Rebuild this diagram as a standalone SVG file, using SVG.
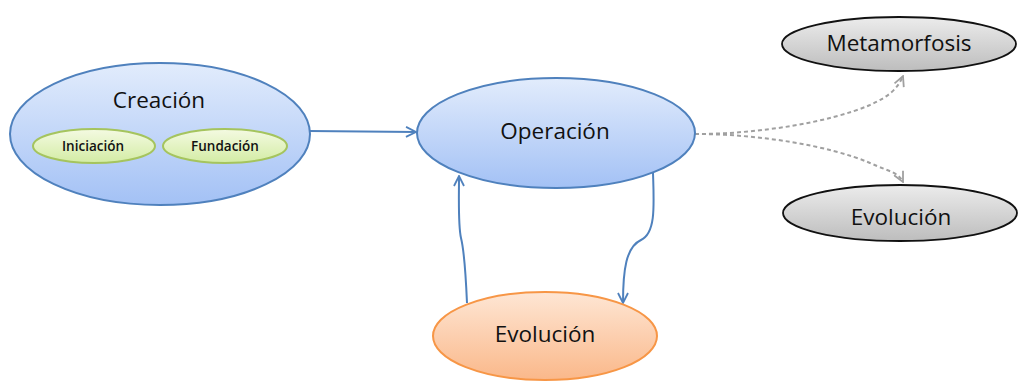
<svg xmlns="http://www.w3.org/2000/svg" width="1018" height="381" viewBox="0 0 1018 381">
<defs>
<linearGradient id="gBlue" x1="0" y1="0" x2="0" y2="1"><stop offset="0" stop-color="#e2ecfc"/><stop offset="1" stop-color="#a3c1f5"/></linearGradient>
<linearGradient id="gGreen" x1="0" y1="0" x2="0" y2="1"><stop offset="0" stop-color="#f4fae2"/><stop offset="1" stop-color="#d3eca4"/></linearGradient>
<linearGradient id="gOrange" x1="0" y1="0" x2="0" y2="1"><stop offset="0" stop-color="#fee6d4"/><stop offset="1" stop-color="#fab88a"/></linearGradient>
<linearGradient id="gGray" x1="0" y1="0" x2="0" y2="1"><stop offset="0" stop-color="#ececec"/><stop offset="1" stop-color="#bdbdbd"/></linearGradient>
<marker id="aBlue" viewBox="0 0 12 12" refX="11" refY="6" markerWidth="12" markerHeight="12" markerUnits="userSpaceOnUse" orient="auto"><path d="M1,1 L11,6 L1,11" fill="none" stroke="#4f81bd" stroke-width="1.8"/></marker>
<marker id="aGray" viewBox="0 0 12 12" refX="11" refY="6" markerWidth="12" markerHeight="12" markerUnits="userSpaceOnUse" orient="auto"><path d="M1,1 L11,6 L1,11" fill="none" stroke="#a0a0a0" stroke-width="1.8"/></marker>
</defs>
<style>
.blue{fill:url(#gBlue);stroke:#4f81bd;stroke-width:2}
.green{fill:url(#gGreen);stroke:#a5c45e;stroke-width:2}
.orange{fill:url(#gOrange);stroke:#f79646;stroke-width:2}
.gray{fill:url(#gGray);stroke:#111;stroke-width:1.8}
.t{font-family:"Open Sans","Noto Sans",sans-serif;fill:#111;text-anchor:middle}
.big{font-size:22.5px}
.small{font-size:13.5px;font-weight:600}
.cb{fill:none;stroke:#4f81bd;stroke-width:2;marker-end:url(#aBlue)}
.cg{fill:none;stroke:#a0a0a0;stroke-width:2;stroke-dasharray:4,3;marker-end:url(#aGray)}
</style>
<g id="connectors">
<path class="cb" d="M309,131 L416,132"/>
<path class="cb" d="M653,173 C654,205 656,233 641,240 C626,247 623,270 623,303"/>
<path class="cb" d="M467,303 C466,280 464,250 461,238 C458,225 459,200 459,176"/>
<path class="cg" d="M695,134 C760,134 830,122 870,105 C890,96 898,88 903,76"/>
<path class="cg" d="M695,134 C760,134 830,146 870,163 C890,172 898,172 903,182"/>
</g>
<g id="creacion">
<ellipse class="blue" cx="160" cy="134" rx="150" ry="71"/>
<text class="t big" x="159" y="108">Creación</text>
</g>
<g id="iniciacion">
<ellipse class="green" cx="94" cy="146" rx="61" ry="17"/>
<text class="t small" x="93" y="151">Iniciación</text>
</g>
<g id="fundacion">
<ellipse class="green" cx="225" cy="146" rx="62" ry="17"/>
<text class="t small" x="225" y="151">Fundación</text>
</g>
<g id="operacion">
<ellipse class="blue" cx="556" cy="133" rx="139" ry="55"/>
<text class="t big" x="555" y="139">Operación</text>
</g>
<g id="evolucion-orange">
<ellipse class="orange" cx="545" cy="336" rx="112" ry="44"/>
<text class="t big" x="545" y="342">Evolución</text>
</g>
<g id="metamorfosis">
<ellipse class="gray" cx="899" cy="44" rx="117" ry="27"/>
<text class="t big" x="899" y="51">Metamorfosis</text>
</g>
<g id="evolucion-gray">
<ellipse class="gray" cx="900" cy="213" rx="117" ry="28"/>
<text class="t big" x="901" y="225">Evolución</text>
</g>
</svg>
